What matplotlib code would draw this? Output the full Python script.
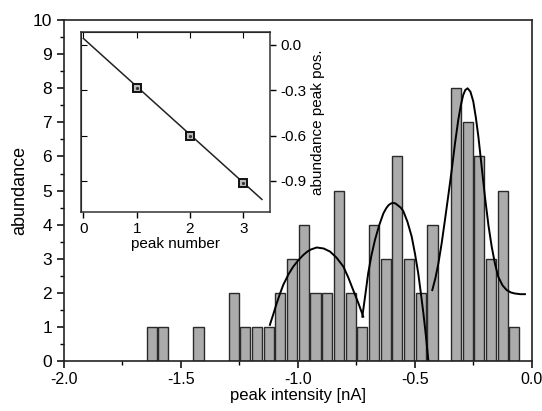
import matplotlib
matplotlib.use('Agg')
import matplotlib.pyplot as plt
from matplotlib.ticker import MultipleLocator

plt.rcParams['font.family'] = ['Liberation Sans', 'DejaVu Sans']

# histogram: bin centres [nA] and counts
bin_centers = [-1.625, -1.575, -1.425, -1.275, -1.225, -1.175, -1.125, -1.075,
               -1.025, -0.975, -0.925, -0.875, -0.825, -0.775, -0.725, -0.675,
               -0.625, -0.575, -0.525, -0.475, -0.425, -0.325, -0.275, -0.225,
               -0.175, -0.125, -0.075]
counts = [1, 1, 1, 2, 1, 1, 1, 2, 3, 4, 2, 2, 5, 2, 1, 4, 3, 6, 3, 2, 4, 8, 7, 6, 3, 5, 1]

# fit curves
fit1_x = [-1.120, -1.105, -1.091, -1.077, -1.063, -1.040, -1.020, -0.998, -0.977, -0.960, -0.945,
          -0.920, -0.890, -0.863, -0.835, -0.806, -0.785, -0.764, -0.742, -0.721]
fit1_y = [1.06, 1.38, 1.69, 1.97, 2.23, 2.55, 2.77, 2.96, 3.11, 3.21, 3.27,
          3.33, 3.30, 3.21, 3.03, 2.77, 2.45, 2.08, 1.70, 1.30]
fit2_x = [-0.725, -0.712, -0.700, -0.686, -0.671, -0.653, -0.635, -0.623, -0.613, -0.603, -0.593,
          -0.583, -0.572, -0.561, -0.550, -0.532, -0.514, -0.500, -0.486, -0.475, -0.464,
          -0.453, -0.443]
fit2_y = [1.30, 1.95, 2.57, 3.10, 3.55, 3.98, 4.33, 4.48, 4.57, 4.62, 4.64,
          4.62, 4.56, 4.50, 4.40, 4.08, 3.65, 3.15, 2.57, 2.00, 1.40,
          0.72, 0.03]
fit3_x = [-0.426, -0.413, -0.400, -0.386, -0.372, -0.357, -0.343, -0.329, -0.315, -0.304, -0.294,
          -0.285, -0.275, -0.263, -0.251, -0.240, -0.229, -0.215, -0.201, -0.186,
          -0.172, -0.158, -0.144, -0.126, -0.108, -0.090, -0.073, -0.050, -0.030]
fit3_y = [2.08, 2.42, 2.86, 3.45, 4.13, 4.88, 5.60, 6.38, 7.07, 7.50, 7.80,
          7.95, 8.00, 7.90, 7.62, 7.15, 6.58, 5.70, 4.82, 3.98,
          3.35, 2.85, 2.47, 2.22, 2.08, 2.01, 1.98, 1.96, 1.96]

# inset: peak positions vs peak number
peak_num = [1, 2, 3]
peak_pos = [-0.283, -0.600, -0.915]
line_x = [0.0, 3.35]
line_y = [0.043, -1.022]

fig = plt.figure(figsize=(5.42, 4.11), dpi=100)
ax = fig.add_axes([0.118, 0.1217, 0.8635, 0.8293])

ax.bar(bin_centers, counts, width=0.043, color='#ababab', edgecolor='#2a2a2a', linewidth=1.0)
ax.plot(fit1_x, fit1_y, color='black', lw=1.4)
ax.plot(fit2_x, fit2_y, color='black', lw=1.4)
ax.plot(fit3_x, fit3_y, color='black', lw=1.4)

ax.set_xlim(-2.0, 0.0)
ax.set_ylim(0, 10)
ax.xaxis.set_major_locator(MultipleLocator(0.5))
ax.xaxis.set_minor_locator(MultipleLocator(0.25))
ax.yaxis.set_major_locator(MultipleLocator(1))
ax.yaxis.set_minor_locator(MultipleLocator(0.5))
ax.set_xticks([-2.0, -1.5, -1.0, -0.5, 0.0])
ax.set_xticklabels(['-2.0', '-1.5', '-1.0', '-0.5', '0.0'])
ax.tick_params(which='major', direction='out', length=5, width=1.1, labelsize=12.5)
ax.tick_params(which='minor', direction='out', length=3, width=1.0)
ax.tick_params(axis='x', labelsize=11.5, pad=3)
for s in ax.spines.values():
    s.set_linewidth(1.2)
    s.set_color('#222222')
ax.set_xlabel('peak intensity [nA]', fontsize=12, labelpad=1)
ax.set_ylabel('abundance', fontsize=13, labelpad=3)

# inset
ins = fig.add_axes([0.149, 0.485, 0.349, 0.4365])
ins.plot(line_x, line_y, color='#222222', lw=1.1)
ins.plot(peak_num, peak_pos, 's', ms=6, mfc='#bbbbbb', mec='#111111', mew=1.4)
ins.plot(peak_num, peak_pos, '.', ms=2.5, color='#333333')
ins.set_xlim(-0.05, 3.5)
ins.set_ylim(-1.103, 0.084)
ins.set_xticks([0, 1, 2, 3])
ins.set_yticks([0.0, -0.3, -0.6, -0.9])
ins.set_yticklabels(['0.0', '-0.3', '-0.6', '-0.9'])
ins.yaxis.tick_right()
ins.yaxis.set_label_position('right')
ins.tick_params(direction='out', length=4, width=1.0, labelsize=11)
ins.set_xlabel('peak number', fontsize=11, labelpad=1)
ins.set_ylabel('abundance peak pos.', fontsize=11, labelpad=3)
for s in ins.spines.values():
    s.set_linewidth(1.1)
    s.set_color('#333333')
# inward ticks on the top and left of the inset
top = ins.secondary_xaxis('top')
top.set_xticks([0, 1, 2, 3])
top.tick_params(direction='in', length=4, labeltop=False)
left = ins.secondary_yaxis('left')
left.set_yticks([0.0, -0.3, -0.6, -0.9])
left.tick_params(direction='in', length=4, labelleft=False)

fig.savefig('out.png', dpi=100)
